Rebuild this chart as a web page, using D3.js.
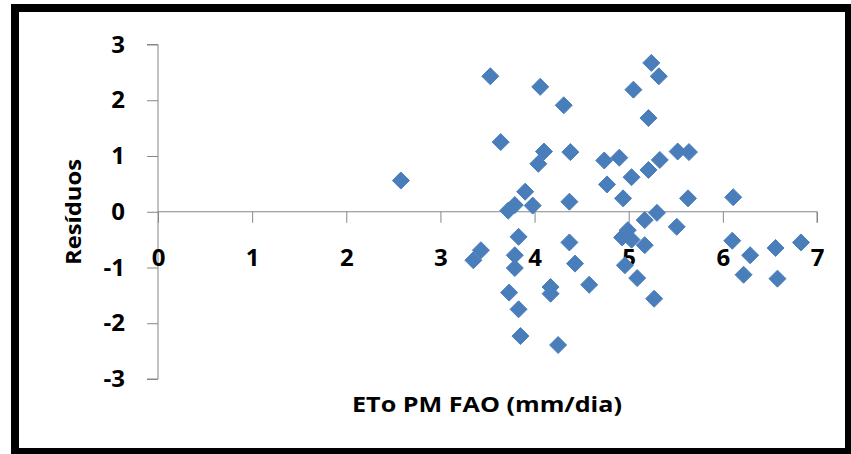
<!DOCTYPE html>
<html>
<head>
<meta charset="utf-8">
<script src="https://cdn.jsdelivr.net/npm/d3@7"></script>
<style>
  body { margin: 0; background: #fff; }
  svg text { font-family: "Open Sans", "Liberation Sans", sans-serif; font-weight: bold; fill: #000; }
</style>
</head>
<body>
<div id="chart"></div>
<script>
// ETo PM FAO (mm/dia) vs residuals
var etoValues = [2.58, 3.53, 3.64, 4.06, 4.31, 4.10, 4.38, 4.04, 3.90, 4.37, 3.98, 3.79, 3.72,
                 5.24, 5.32, 5.05, 5.21, 4.74, 4.90, 5.52, 5.64, 5.33, 5.21, 5.03, 4.77, 4.94, 5.63,
                 5.30, 5.17, 5.51, 4.99, 4.93, 5.03, 5.17, 4.96, 5.09, 5.27, 4.58,
                 3.83, 3.43, 3.35, 3.79, 3.79, 4.37, 4.43, 4.17, 4.17, 3.73, 3.83, 3.85, 4.25,
                 6.11, 6.10, 6.29, 6.22, 6.56, 6.58, 6.83];
var residuos = [0.56, 2.43, 1.25, 2.24, 1.91, 1.08, 1.07, 0.86, 0.36, 0.18, 0.11, 0.12, 0.02,
                2.67, 2.43, 2.19, 1.68, 0.92, 0.97, 1.08, 1.07, 0.93, 0.75, 0.62, 0.49, 0.24, 0.24,
                -0.02, -0.15, -0.27, -0.33, -0.46, -0.50, -0.60, -0.96, -1.19, -1.56, -1.31,
                -0.45, -0.69, -0.87, -0.78, -1.01, -0.55, -0.93, -1.35, -1.47, -1.45, -1.75, -2.23, -2.39,
                0.26, -0.52, -0.78, -1.13, -0.65, -1.20, -0.55];
var xTicks = [0, 1, 2, 3, 4, 5, 6, 7];
var yTicks = [-3, -2, -1, 0, 1, 2, 3];
var xTitle = "ETo PM FAO (mm/dia)";
var yTitle = "Resíduos";

var W = 851, H = 454;
var margin = {top: 44.5, right: 34, bottom: 75, left: 158};
var width = W - margin.left - margin.right,
    height = H - margin.top - margin.bottom;

var svg = d3.select("#chart").append("svg")
    .attr("width", W)
    .attr("height", H);

// outer frame
svg.append("rect")
    .attr("x", 15).attr("y", 8)
    .attr("width", 834).attr("height", 444)
    .attr("fill", "none")
    .attr("stroke", "#000")
    .attr("stroke-width", 8);

var g = svg.append("g")
    .attr("transform", "translate(" + margin.left + "," + margin.top + ")");

var x = d3.scaleLinear().domain([0, 7]).range([0, width]);
var y = d3.scaleLinear().domain([-3, 3]).range([height, 0]);

function plain(d) { return String(d); }   // hyphen minus, like Excel

// y axis
var yAxis = g.append("g")
    .call(d3.axisLeft(y).tickValues(yTicks).tickSize(11).tickPadding(22).tickFormat(plain));
yAxis.selectAll("line, path").attr("stroke", "#868686");
yAxis.select(".domain").attr("d", "M-11," + y(3) + "H0V" + y(-3) + "H-11");
yAxis.selectAll("text").style("font-size", "24px").attr("font-family", null);

// x axis crosses at y = 0
var xAxis = g.append("g")
    .attr("transform", "translate(0," + y(0) + ")")
    .call(d3.axisBottom(x).tickValues(xTicks).tickSize(11).tickPadding(26).tickFormat(plain));
xAxis.selectAll("line, path").attr("stroke", "#868686");
xAxis.select(".domain").attr("d", "M0,0H" + width + "V11");
xAxis.selectAll("text").style("font-size", "24px").attr("font-family", null);

// diamonds
var pts = etoValues.map(function(d, i) { return {x: d, y: residuos[i]}; });
var r = 8.5;
g.selectAll(".pt")
    .data(pts)
  .enter().append("path")
    .attr("class", "pt")
    .attr("d", "M0," + (-r) + "L" + r + ",0L0," + r + "L" + (-r) + ",0Z")
    .attr("transform", function(d) { return "translate(" + x(d.x) + "," + y(d.y) + ")"; })
    .attr("fill", "#4a7ebb")
    .attr("stroke", "#4a7ebb")
    .attr("stroke-width", 1)
    .attr("stroke-linejoin", "round");

// titles
svg.append("text")
    .attr("x", 487).attr("y", 412)
    .attr("text-anchor", "middle")
    .attr("textLength", 270)
    .attr("lengthAdjust", "spacingAndGlyphs")
    .style("font-size", "21px")
    .text(xTitle);

svg.append("text")
    .attr("transform", "translate(81,212) rotate(-90)")
    .attr("text-anchor", "middle")
    .attr("textLength", 106)
    .attr("lengthAdjust", "spacingAndGlyphs")
    .style("font-size", "21px")
    .text(yTitle);
</script>
</body>
</html>
